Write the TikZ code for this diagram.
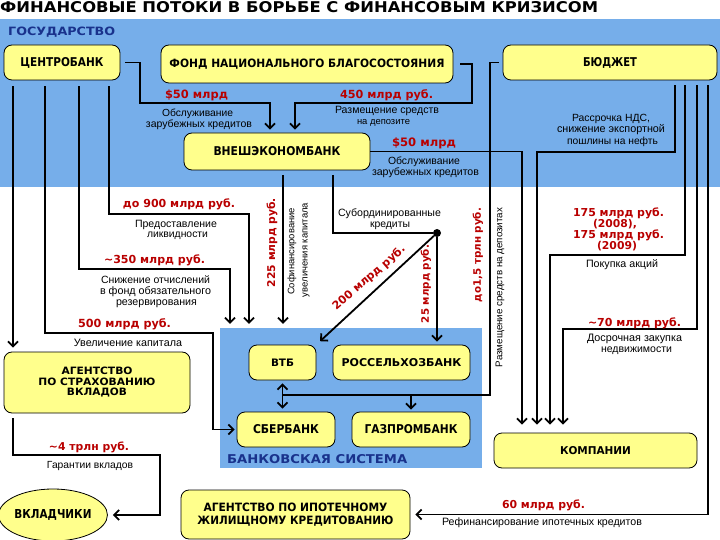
\documentclass[tikz,border=0pt]{standalone}
\usepackage{fontspec}
\setmainfont{Liberation Sans}
\newfontfamily\heavyfont{DejaVu Sans}
\usepackage{graphicx}
\usetikzlibrary{arrows.meta,shapes.geometric}
\definecolor{bgblue}{RGB}{118,174,234}
\definecolor{boxyellow}{RGB}{255,255,140}
\definecolor{dred}{RGB}{185,0,0}
\definecolor{navy}{RGB}{25,50,140}
\newcommand\fw[2]{\resizebox{#1pt}{!}{#2}}
\newcommand\fwh[3]{\resizebox{#1pt}{#2pt}{#3}}
\tikzset{
 box/.style={draw=black, line width=0.8pt, fill=boxyellow, rounded corners=8pt, inner sep=0pt,
   font=\heavyfont\bfseries\fontsize{10}{13}\selectfont, align=center},
 flow/.style={line width=1.8pt, -{Straight Barb[length=5pt,width=10pt]}},
 plain/.style={line width=1.8pt},
 amt/.style={text=dred, font=\heavyfont\bfseries\fontsize{11}{12}\selectfont, inner sep=0pt, anchor=base},
 lbl/.style={text=black, font=\fontsize{10}{11}\selectfont, inner sep=0pt, anchor=base},
 ttl/.style={text=navy, font=\heavyfont\bfseries, inner sep=0pt, anchor=base west},
}
\begin{document}
\begin{tikzpicture}[x=1pt,y=-1pt]
\useasboundingbox (0,0) rectangle (720,540);
\fill[white] (0,0) rectangle (720,540);
\fill[bgblue] (0,19) rectangle (720,187);

% title
\node[anchor=base west, inner sep=0pt, font=\heavyfont\bfseries] (title) at (0,13) {\fwh{598}{11}{ФИНАНСОВЫЕ ПОТОКИ В БОРЬБЕ С ФИНАНСОВЫМ КРИЗИСОМ}};
\node[ttl] (gos) at (8,35.5) {\fwh{107}{8.5}{ГОСУДАРСТВО}};

% boxes
\node[box, minimum width=116pt, minimum height=35pt] (cb) at (62,62.5) {\fwh{83}{9}{ЦЕНТРОБАНК}};
\node[box, minimum width=292pt, minimum height=38pt] (fnb) at (307,64) {\fwh{275}{8.5}{ФОНД НАЦИОНАЛЬНОГО БЛАГОСОСТОЯНИЯ}};
\node[box, minimum width=214pt, minimum height=35pt] (bud) at (610,62.5) {\fwh{54}{9}{БЮДЖЕТ}};
\node[box, minimum width=186pt, minimum height=37pt] (veb) at (277,151.5) {\fwh{127}{9}{ВНЕШЭКОНОМБАНК}};

\node[fill=bgblue, minimum width=262pt, minimum height=140pt, inner sep=0pt] (bs) at (351,398) {};
\node[ttl] (bsl) at (227,463.5) {\fwh{180}{9}{БАНКОВСКАЯ СИСТЕМА}};
\node[box, minimum width=67pt, minimum height=35pt] (vtb) at (282.5,362.5) {\fwh{23}{7.5}{ВТБ}};
\node[box, minimum width=137pt, minimum height=35pt] (rsh) at (401.5,362.5) {\fwh{120}{8}{РОССЕЛЬХОЗБАНК}};
\node[box, minimum width=98pt, minimum height=35pt] (sber) at (286,429.5) {\fwh{66}{9}{СБЕРБАНК}};
\node[box, minimum width=118pt, minimum height=35pt] (gpb) at (411,429.5) {\fwh{93}{9}{ГАЗПРОМБАНК}};

\node[box, minimum width=203pt, minimum height=35pt] (komp) at (595.5,450.5) {\fwh{71}{8}{КОМПАНИИ}};
\node[box, minimum width=186pt, minimum height=61pt, font=\heavyfont\bfseries\fontsize{9}{10.5}\selectfont] (asv) at (97,382.5)
  {\fwh{71}{7.5}{АГЕНТСТВО}\\\fwh{117}{7.5}{ПО СТРАХОВАНИЮ}\\\fwh{60}{7.5}{ВКЛАДОВ}};
\node[draw=black, line width=0.8pt, fill=boxyellow, ellipse, minimum width=100pt, minimum height=52pt, inner sep=0pt] (vkl) at (53,515) {\fwh{77}{9}{\heavyfont\bfseries ВКЛАДЧИКИ}};
\node[box, minimum width=229pt, minimum height=49pt, font=\heavyfont\bfseries\fontsize{10}{13}\selectfont] (aizhk) at (295.5,514.5)
  {\fwh{184}{8.5}{АГЕНТСТВО ПО ИПОТЕЧНОМУ}\\\fwh{196}{8.5}{ЖИЛИЩНОМУ КРЕДИТОВАНИЮ}};

\node[circle, fill=black, minimum size=8pt, inner sep=0pt] (dot) at (437,233) {};
\coordinate (dep) at (282.5,395);

% connectors
\draw[flow, shorten <=5pt, shorten >=3pt] (cb.east) -| (140,103) -| ([xshift=-7pt]veb.north);
\draw[flow, shorten <=7pt, shorten >=3pt] (fnb.east) -| (472,103) -| ([xshift=18pt]veb.north);
\draw[flow, shorten <=6pt, shorten >=4pt] ([xshift=-49pt]cb.south) -- ([xshift=-84pt]asv.north);
\draw[flow, shorten <=6pt, shorten >=2pt] ([xshift=-17pt]cb.south) |- (213,333) |- (sber.west);
\draw[flow, shorten <=6pt, shorten >=4pt] ([xshift=17pt]cb.south) |- (230,269) -- ([xshift=-121pt]bs.north);
\draw[flow, shorten <=6pt, shorten >=4pt] ([xshift=47pt]cb.south) |- (249,214) -- ([xshift=-102pt]bs.north);
\draw[flow, shorten <=5pt, shorten >=4pt] ([xshift=6pt]veb.south) -- ([xshift=-68pt]bs.north);
\draw[plain, shorten <=5pt] ([xshift=56pt]veb.south) |- (dot);
\draw[flow, shorten >=5pt] (dot) -- (vtb.north east);
\draw[flow, shorten >=3pt] (dot) -- (dot |- rsh.north);
\draw[plain, shorten <=4pt] (bud.west) -| (490,395) -- (dep);
\draw[flow, shorten >=2pt] (gpb.north |- dep) -- (gpb.north);
\draw[line width=1.8pt, {Straight Barb[length=5pt,width=10pt]}-{Straight Barb[length=5pt,width=10pt]}, shorten <=3pt, shorten >=3pt] (vtb.south) -- (vtb.south |- sber.north);
\draw[flow, shorten >=8pt] (veb.east) -| ([xshift=-73.5pt]komp.north);
\draw[flow, shorten <=5pt, shorten >=8pt] ([xshift=65pt]bud.south) |- (537,152) -- ([xshift=-58.5pt]komp.north);
\draw[flow, shorten <=5pt, shorten >=8pt] ([xshift=75pt]bud.south) |- (550,255) -- ([xshift=-45.5pt]komp.north);
\draw[flow, shorten <=5pt, shorten >=8pt] ([xshift=87pt]bud.south) |- (563,329) -- ([xshift=-32.5pt]komp.north);
\draw[flow, shorten <=5pt, shorten >=5pt] ([xshift=98pt]bud.south) |- (aizhk.east);
\draw[flow, shorten <=5pt, shorten >=5pt] ([xshift=-84pt]asv.south) |- (160,455) |- (vkl.east);

% amounts
\node[amt] (a1) at (196.5,99) {\fw{63}{\$50 млрд}};
\node[amt] (a2) at (386.5,99) {\fw{93}{450 млрд руб.}};
\node[amt] (a3) at (424,147) {\fw{64}{\$50 млрд}};
\node[amt] (a4) at (179,208) {\fw{112}{до 900 млрд руб.}};
\node[amt] (a5) at (154.5,263) {\fw{101}{\textasciitilde350 млрд руб.}};
\node[amt] (a6) at (124.5,327) {\fw{93}{500 млрд руб.}};
\node[amt] (a7a) at (618.5,217) {\fw{91}{175 млрд руб.}};
\node[amt] (a7b) at (615,228) {\fw{44}{(2008),}};
\node[amt] (a7c) at (618.5,238.5) {\fw{91}{175 млрд руб.}};
\node[amt] (a7d) at (617,249) {\fw{40}{(2009)}};
\node[amt] (a8) at (634.5,326) {\fw{93}{\textasciitilde70 млрд руб.}};
\node[amt] (a9) at (543.5,508) {\fw{83}{60 млрд руб.}};
\node[amt] (a10) at (89,450) {\fw{80}{\textasciitilde4 трлн руб.}};
\node[amt, anchor=center, rotate=90] (r1) at (272,242.5) {\fw{89}{225 млрд руб.}};
\node[amt, anchor=center, rotate=90] (r2) at (426,284) {\fw{78}{25 млрд руб.}};
\node[amt, anchor=center, rotate=90] (r3) at (478,255) {\fw{94}{до1,5 трлн руб.}};
\node[amt, anchor=center, rotate=41] (r4) at (369,278) {\fw{92}{200 млрд руб.}};

% labels
\node[lbl] (t1a) at (197.5,116.5) {\fw{71}{Обслуживание}};
\node[lbl] (t1b) at (199,128) {\fw{106}{зарубежных кредитов}};
\node[lbl] (t2a) at (387,113.5) {\fw{104}{Размещение средств}};
\node[lbl] (t2b) at (383.5,125) {\fw{53}{на депозите}};
\node[lbl] (t3a) at (424,164.5) {\fw{72}{Обслуживание}};
\node[lbl] (t3b) at (425.5,175.5) {\fw{107}{зарубежных кредитов}};
\node[lbl] (t4a) at (611,121.5) {\fw{78}{Рассрочка НДС,}};
\node[lbl] (t4b) at (611,133) {\fw{108}{снижение экспортной}};
\node[lbl] (t4c) at (612.5,144.5) {\fw{91}{пошлины на нефть}};
\node[lbl] (t5a) at (176,227.5) {\fw{82}{Предоставление}};
\node[lbl] (t5b) at (177.5,238) {\fw{61}{ликвидности}};
\node[lbl] (t6a) at (155.5,283.5) {\fw{109}{Снижение отчислений}};
\node[lbl] (t6b) at (155.5,294.5) {\fw{111}{в фонд обязательного}};
\node[lbl] (t6c) at (156.5,305.5) {\fw{81}{резервирования}};
\node[lbl] (t7) at (128,346.5) {\fw{108}{Увеличение капитала}};
\node[lbl] (t8a) at (389.5,216.5) {\fw{103}{Субординированные}};
\node[lbl] (t8b) at (390,227.5) {\fw{40}{кредиты}};
\node[lbl] (t9) at (622,267.5) {\fw{72}{Покупка акций}};
\node[lbl] (t10a) at (634.5,341.5) {\fw{95}{Досрочная закупка}};
\node[lbl] (t10b) at (636.5,352.5) {\fw{71}{недвижимости}};
\node[lbl] (t11) at (90,468.5) {\fw{86}{Гарантии вкладов}};
\node[lbl] (t12) at (542,525.5) {\fw{200}{Рефинансирование ипотечных кредитов}};
\node[lbl, anchor=center, rotate=90] (t13a) at (292,251.5) {\fw{87}{Софинансирование}};
\node[lbl, anchor=center, rotate=90] (t13b) at (306,250) {\fw{94}{увеличения капитала}};
\node[lbl, anchor=center, rotate=90] (t14) at (500,287.5) {\fw{159}{Размещение средств на депозитах}};
\end{tikzpicture}
\end{document}
